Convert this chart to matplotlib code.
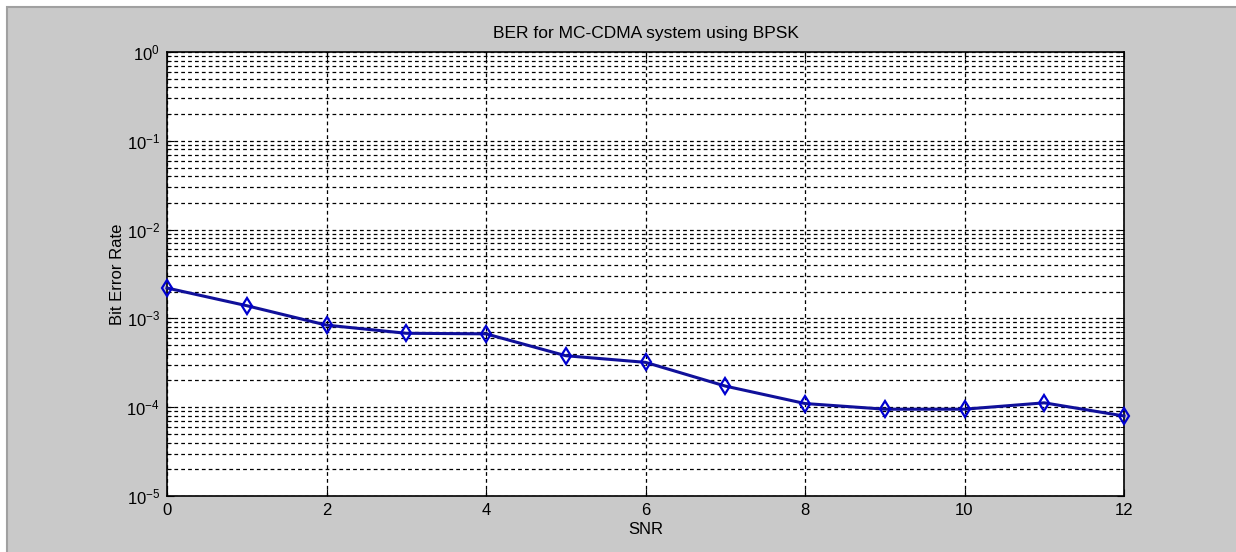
import numpy as np
import matplotlib
matplotlib.use("Agg")
import matplotlib.pyplot as plt
from matplotlib.patches import Rectangle

plt.rcParams.update({"font.family": ["Liberation Sans", "DejaVu Sans"],
                     "font.size": 12, "axes.unicode_minus": False})

snr = [0, 1, 2, 3, 4, 5, 6, 7, 8, 9, 10, 11, 12]
ber = [2.2e-3, 1.39e-3, 8.4e-4, 6.8e-4, 6.7e-4, 3.8e-4, 3.2e-4,
       1.73e-4, 1.1e-4, 9.5e-5, 9.5e-5, 1.12e-4, 7.96e-5]

fig = plt.figure(figsize=(12.36, 5.52), dpi=100, facecolor='white')
# window frame (grey panel, edge only visible at top/left)
fig.patches.append(Rectangle((7/1236, -0.05), 1.1, 1.05 - 7/552,
                             transform=fig.transFigure, facecolor='#c9c9c9',
                             edgecolor='#a0a0a0', lw=1.5, zorder=-5))
ax = fig.add_axes([167/1236, 56/552, 957/1236, 444/552])
ax.set_zorder(2)
ax.set_facecolor('white')

ax.semilogy(snr, ber, '-d', color='#10109a', lw=2.2, ms=8, mfc='none',
            mec='#0000d0', mew=1.6, clip_on=False, zorder=5)

ax.set_xlim(0, 12)
ax.set_ylim(1e-5, 1)
ax.set_xticks(range(0, 13, 2))
ax.set_yticks([1e-5, 1e-4, 1e-3, 1e-2, 1e-1, 1])
ax.grid(True, which='major', axis='both', color='black', ls=(0, (3, 2.5)), lw=0.9)
ax.grid(True, which='minor', axis='y', color='black', ls=(0, (3, 2.5)), lw=0.9)
ax.tick_params(which='both', direction='in', top=True, right=True,
               labelsize=12, length=5, pad=5)
ax.tick_params(which='minor', length=3)
for s in ax.spines.values():
    s.set_linewidth(1.2)

ax.set_title('BER for MC-CDMA system using BPSK', fontsize=12.5, pad=10)
ax.set_xlabel('SNR', fontsize=12, labelpad=3)
ax.set_ylabel('Bit Error Rate', fontsize=12, labelpad=1)

fig.savefig('out.png', dpi=100, facecolor=fig.get_facecolor())
